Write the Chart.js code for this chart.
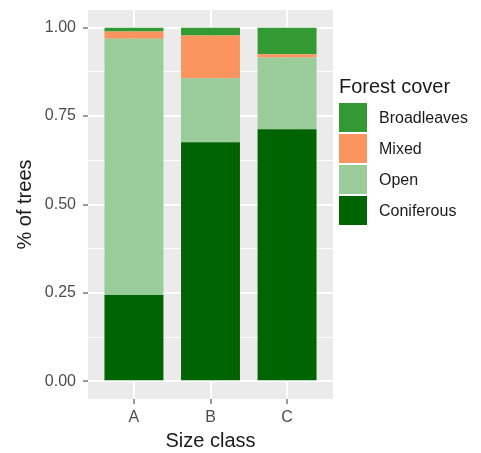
<!DOCTYPE html>
<html>
<head>
<meta charset="utf-8">
<script src="https://cdn.jsdelivr.net/npm/chart.js@4"></script>
<style>
  body { margin: 0; background: #fff; font-family: "Liberation Sans", Arial, sans-serif; }
  #wrap { position: relative; width: 481px; height: 453px; }
  #legend { position: absolute; left: 339px; top: 74px; color: #1a1a1a; }
  #legend .title { font-size: 20px; height: 26px; line-height: 24px; margin-bottom: 2px; }
  #legend .item { display: flex; align-items: center; height: 31px; }
  #legend .key { width: 28px; height: 29px; margin-right: 12px; }
  #legend .label { font-size: 16px; }
</style>
</head>
<body>
<div id="wrap">
  <canvas id="chart" width="481" height="453"></canvas>
  <div id="legend"></div>
</div>
<script>
// data
const categories = ['A', 'B', 'C'];
const coniferous = [0.244, 0.676, 0.713];
const open = [0.725, 0.181, 0.203];
const mixed = [0.020, 0.121, 0.009];
const broadleaves = [0.011, 0.022, 0.075];
const yTicks = [0, 0.25, 0.5, 0.75, 1];

const series = [
  { label: 'Coniferous', values: coniferous, color: '#006400' },
  { label: 'Open', values: open, color: '#99CC99' },
  { label: 'Mixed', values: mixed, color: '#FC9460' },
  { label: 'Broadleaves', values: broadleaves, color: '#339933' },
];

// ggplot-like grey panel
const panelBg = {
  id: 'panelBg',
  beforeDraw(chart) {
    const { ctx, chartArea: a } = chart;
    ctx.save();
    ctx.fillStyle = '#EBEBEB';
    ctx.fillRect(a.left, a.top, a.right - a.left, a.bottom - a.top);
    ctx.restore();
  }
};

const isMajor = v => yTicks.some(t => Math.abs(t - v) < 1e-6);

const ctx = document.getElementById('chart').getContext('2d');
new Chart(ctx, {
  type: 'bar',
  data: {
    datasets: series.map(s => ({
      label: s.label,
      data: s.values.map((v, i) => ({ x: i + 1, y: v })),
      backgroundColor: s.color,
      borderWidth: 0,
      barPercentage: 0.77,
      categoryPercentage: 1,
    })),
  },
  options: {
    responsive: false,
    animation: false,
    layout: { padding: { left: 0, right: 148, top: 10, bottom: 0 } },
    plugins: {
      legend: { display: false },
      tooltip: { enabled: false },
    },
    scales: {
      x: {
        type: 'linear',
        stacked: true,
        offset: false,
        min: 0.4,
        max: 3.6,
        afterBuildTicks: scale => { scale.ticks = categories.map((c, i) => ({ value: i + 1 })); },
        afterFit: scale => { scale.height = 54; scale.paddingLeft = 0; scale.paddingRight = 0; },
        border: { display: false },
        grid: { offset: false, color: '#FFFFFF', lineWidth: 2, tickLength: 5, tickColor: '#333333', tickWidth: 1 },
        ticks: {
          autoSkip: false,
          padding: 4,
          color: '#4D4D4D',
          font: { family: 'Liberation Sans', size: 16 },
          callback: v => categories[Math.round(v) - 1],
        },
        title: {
          display: true,
          text: 'Size class',
          color: '#1a1a1a',
          font: { family: 'Liberation Sans', size: 20 },
          padding: { top: 0, bottom: 0 },
        },
      },
      y: {
        stacked: true,
        min: -0.05,
        max: 1.05,
        afterBuildTicks: scale => {
          const t = [];
          for (let v = 0; v <= 1.0001; v += 0.125) t.push({ value: v });
          scale.ticks = t;
        },
        afterFit: scale => { scale.width = 88; scale.paddingTop = 0; scale.paddingBottom = 0; },
        border: { display: false },
        grid: {
          color: '#FFFFFF',
          lineWidth: c => (isMajor(c.tick.value) ? 2 : 1),
          tickLength: 5,
          tickColor: c => (isMajor(c.tick.value) ? '#333333' : 'rgba(0,0,0,0)'),
          tickWidth: 1,
        },
        ticks: {
          autoSkip: false,
          padding: 7,
          color: '#4D4D4D',
          font: { family: 'Liberation Sans', size: 16 },
          callback: v => (isMajor(v) ? v.toFixed(2) : ''),
        },
        title: {
          display: true,
          text: '% of trees',
          color: '#1a1a1a',
          font: { family: 'Liberation Sans', size: 20 },
          padding: { top: 13, bottom: 0 },
        },
      },
    },
  },
  plugins: [panelBg],
});

// legend, top to bottom in stacking order from the top
const legend = document.getElementById('legend');
legend.innerHTML = '<div class="title">Forest cover</div>' +
  series.slice().reverse().map(s =>
    '<div class="item"><div class="key" style="background:' + s.color + '"></div>' +
    '<span class="label">' + s.label + '</span></div>').join('');
</script>
</body>
</html>
